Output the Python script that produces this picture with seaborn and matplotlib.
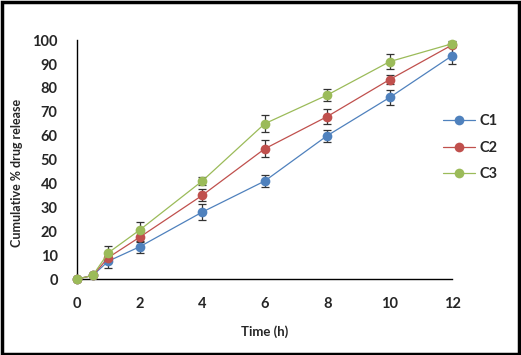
import numpy as np
import pandas as pd
import matplotlib
matplotlib.use("Agg")
import matplotlib.pyplot as plt
import seaborn as sns
from matplotlib.patches import Rectangle

# ---------------------- data -----------------
time_h = [0, 0.5, 1, 2, 4, 6, 8, 10, 12]
c1 = [0, 1.5, 7.5, 13.5, 28, 41, 60, 76, 93.5]
c2 = [0, 1.5, 9, 17.5, 35, 54.5, 68, 83.5, 98]
c3 = [0, 1.5, 11, 20.5, 41, 65, 77, 91, 98.5]
c1_err = [0, 0, 3, 2.5, 3.5, 2.5, 2.5, 3, 3.5]
c2_err = [0, 0, 2, 2, 2.5, 3.5, 3, 2, 1]
c3_err = [0, 0, 3, 3.5, 1.5, 3.5, 2.5, 3, 1]

series_names = ['C1', 'C2', 'C3']
colors = ['#4F81BD', '#C0504D', '#9BBB59']

data = pd.DataFrame({
    'time': time_h * 3,
    'release': c1 + c2 + c3,
    'err': c1_err + c2_err + c3_err,
    'formulation': [n for n in series_names for _ in time_h],
})

# Plot setup
sns.set_theme(style="white")
plt.rcParams['font.family'] = ['Lato', 'DejaVu Sans']
fig = plt.figure(figsize=(5.21, 3.55), dpi=100)
ax = fig.add_axes([0.148, 0.214, 0.72, 0.673])

# error bars first, then lines + markers on top
for name, col in zip(series_names, colors):
    sub = data[data.formulation == name]
    ax.errorbar(sub.time, sub.release, yerr=sub.err, fmt='none',
                ecolor='#333333', elinewidth=0.9, capsize=3, capthick=0.9,
                clip_on=False, zorder=2)

sns.lineplot(data=data, x='time', y='release', hue='formulation',
             palette=colors, marker='o', markersize=7, markeredgewidth=0,
             linewidth=0.9, ax=ax, legend=True, zorder=3, clip_on=False)

for line in ax.lines:
    line.set_clip_on(False)

# axes
ax.set_xlim(0, 12)
ax.set_ylim(0, 100)
ax.set_xticks([0, 2, 4, 6, 8, 10, 12])
ax.set_yticks(range(0, 101, 10))
ax.tick_params(axis='both', labelsize=10.5, length=0)
ax.tick_params(axis='x', pad=13)
ax.tick_params(axis='y', pad=14)
for lbl in ax.get_xticklabels() + ax.get_yticklabels():
    lbl.set_fontweight('bold')
ax.set_xlabel('Time (h)', fontsize=9.5, fontweight='bold', labelpad=10)
ax.set_ylabel('Cumulative % drug release', fontsize=9, fontweight='bold')
ax.yaxis.set_label_coords(-0.145, 0.445)

sns.despine(ax=ax)
for side in ['left', 'bottom']:
    ax.spines[side].set_color('black')
    ax.spines[side].set_linewidth(1.0)

# legend
leg = ax.legend(loc='center left', bbox_to_anchor=(0.94, 0.55), frameon=False,
                fontsize=10.5, handlelength=2.2, labelspacing=0.85,
                handletextpad=0.3)
for txt in leg.get_texts():
    txt.set_fontweight('bold')

# outer frame
fig.patches.append(Rectangle((0.003, 0.004), 0.994, 0.99, transform=fig.transFigure,
                             fill=False, edgecolor='black', linewidth=2.5))

fig.savefig('out.png', dpi=100)
